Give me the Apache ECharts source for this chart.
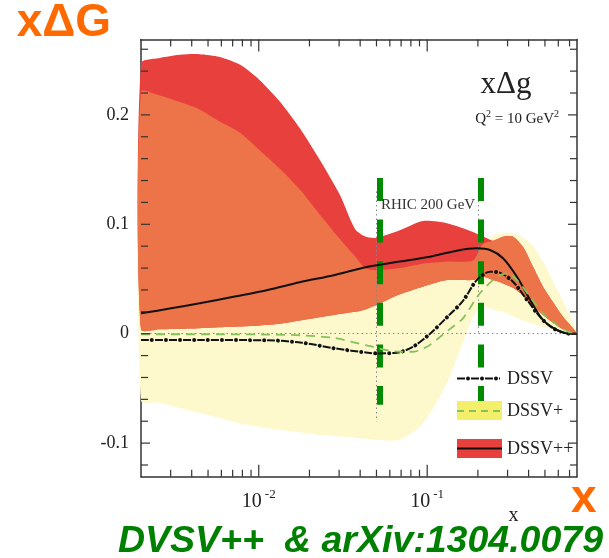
<!DOCTYPE html>
<html>
<head>
<meta charset="utf-8">
<script src="https://cdn.jsdelivr.net/npm/echarts@6/dist/echarts.min.js"></script>
<style>
  html, body { margin: 0; padding: 0; background: #ffffff; }
  #chart { width: 609px; height: 558px; }
</style>
</head>
<body>
<div id="chart"></div>
<script>
// x positions at which the uncertainty bands are sampled
const bandX = [0.002, 0.00258, 0.0034, 0.00446, 0.00586, 0.00771, 0.0101, 0.0133, 0.0175, 0.023,
  0.0303, 0.0372, 0.0426, 0.0496, 0.0688, 0.0942, 0.131, 0.187, 0.214, 0.246,
  0.282, 0.323, 0.370, 0.425, 0.487, 0.558, 0.640, 0.734, 0.775];
// DSSV++ band (red)
const dssvPPUpper = [0.247, 0.252, 0.255, 0.2555, 0.253, 0.246, 0.232, 0.2125, 0.188, 0.159,
  0.127, 0.096, 0.089, 0.0875, 0.0945, 0.103, 0.101, 0.093, 0.089, 0.085,
  0.0887, 0.0887, 0.0795, 0.0612, 0.043, 0.029, 0.0155, 0.005, 0];
const dssvPPLower = [0.004, 0.004, 0.0045, 0.005, 0.0058, 0.0065, 0.0075, 0.009, 0.012, 0.015,
  0.018, 0.020, 0.022, 0.026, 0.036, 0.043, 0.049, 0.049, 0.052, 0.049,
  0.046, 0.042, 0.035, 0.025, 0.017, 0.010, 0.004, 0.001, 0];
// DSSV+ band (yellow)
const dssvPUpper = [0.221, 0.2177, 0.2118, 0.205, 0.194, 0.184, 0.168, 0.151, 0.132, 0.109,
  0.0866, 0.071, 0.060, 0.058, 0.060, 0.064, 0.066, 0.067, 0.082, 0.090,
  0.092, 0.092, 0.088, 0.080, 0.066, 0.048, 0.030, 0.010, 0];
const dssvPLower = [-0.061, -0.063, -0.068, -0.0725, -0.077, -0.082, -0.085, -0.088, -0.090, -0.0926,
  -0.094, -0.095, -0.096, -0.097, -0.097, -0.082, -0.045, 0.015, 0.025, 0.022,
  0.020, 0.016, 0.012, 0.009, 0.006, 0.004, 0.002, 0.0, 0];

// central curves
const dssvPPX = [0.002, 0.00296, 0.00446, 0.0072, 0.0113, 0.0175, 0.0283, 0.0444, 0.0688, 0.104,
  0.150, 0.197, 0.236, 0.282, 0.341, 0.408, 0.487, 0.590, 0.705, 0.775];
const dssvPPY = [0.0186, 0.023, 0.0278, 0.034, 0.040, 0.047, 0.0537, 0.0612, 0.066, 0.0704,
  0.0759, 0.078, 0.0765, 0.069, 0.052, 0.031, 0.0125, 0.0034, 0.0, 0];

const dssvX = [0.002, 0.00446, 0.0113, 0.018, 0.0283, 0.0444, 0.0502, 0.0661, 0.0822, 0.104,
  0.131, 0.163, 0.197, 0.236, 0.270, 0.323, 0.391, 0.467, 0.558, 0.705, 0.775];
const dssvY = [-0.0058, -0.0058, -0.006, -0.0082, -0.0134, -0.0174, -0.018, -0.0174, -0.012, 0.0,
  0.015, 0.03, 0.049, 0.0567, 0.0558, 0.0475, 0.031, 0.0155, 0.005, 0.0, 0];

const dssvPX = [0.002, 0.00446, 0.0113, 0.018, 0.0283, 0.0444, 0.0688, 0.0822, 0.0996, 0.119,
  0.142, 0.163, 0.2056, 0.2595, 0.2976, 0.341, 0.408, 0.487, 0.590, 0.705, 0.775];
const dssvPY = [-0.0005, -0.0005, -0.0008, -0.0015, -0.004, -0.011, -0.0165, -0.0165, -0.012, -0.003,
  0.0064, 0.014, 0.037, 0.052, 0.0552, 0.049, 0.0338, 0.0186, 0.008, 0.001, 0];

// axis ranges and ticks
const xRange = [0.002, 0.775];
const yRange = [-0.1307, 0.269];
const xMajorTicks = [0.01, 0.1];
const xMinorTicks = [0.003, 0.004, 0.005, 0.006, 0.007, 0.008, 0.009,
  0.02, 0.03, 0.04, 0.05, 0.06, 0.07, 0.08, 0.09,
  0.2, 0.3, 0.4, 0.5, 0.6, 0.7];
const yTicks = [-0.12, -0.1, -0.08, -0.06, -0.04, -0.02, 0, 0.02, 0.04, 0.06, 0.08,
  0.1, 0.12, 0.14, 0.16, 0.18, 0.2, 0.22, 0.24, 0.26];

// RHIC 200 GeV kinematic range
const rhicX = [0.05, 0.2];
const rhicMarkX = [0.052, 0.208];

const SERIF = 'Liberation Serif';
const SANS = 'Liberation Sans';

const overlapUpper = dssvPPUpper.map((v, i) => Math.min(v, dssvPUpper[i]));
const overlapLower = dssvPPLower.map((v, i) => Math.max(v, dssvPLower[i]));

function bandSeries(name, upper, lower, color, z) {
  return {
    type: 'custom',
    name: name,
    silent: true,
    z: z,
    data: bandX.map((x, i) => [x, lower[i], upper[i]]),
    encode: { x: 0, y: [1, 2] },
    renderItem: function (params, api) {
      if (params.dataIndex !== 0) return null;
      const top = bandX.map((x, i) => api.coord([x, upper[i]]));
      const bottom = bandX.map((x, i) => api.coord([x, lower[i]])).reverse();
      return {
        type: 'polygon',
        shape: { points: top.concat(bottom), smooth: 0.25 },
        style: { fill: color }
      };
    }
  };
}

const tickStyle = { stroke: '#333', lineWidth: 1.2 };

const xTickSeries = {
  type: 'custom',
  silent: true,
  z: 10,
  data: xMinorTicks.map(v => [v, 0, 0]).concat(xMajorTicks.map(v => [v, 0, 1])),
  encode: { x: 0, y: 1 },
  renderItem: function (params, api) {
    const px = api.coord([api.value(0), 0])[0];
    const cs = params.coordSys;
    const len = api.value(2) ? 12 : 7;
    return {
      type: 'group',
      children: [
        { type: 'line', shape: { x1: px, y1: cs.y + cs.height, x2: px, y2: cs.y + cs.height - len }, style: tickStyle },
        { type: 'line', shape: { x1: px, y1: cs.y, x2: px, y2: cs.y + len }, style: tickStyle }
      ]
    };
  }
};

const yTickSeries = {
  type: 'custom',
  silent: true,
  z: 10,
  data: yTicks.map(v => [xRange[0], v, Math.abs(v * 10 - Math.round(v * 10)) < 1e-6 ? 1 : 0]),
  encode: { x: 0, y: 1 },
  renderItem: function (params, api) {
    const py = api.coord([xRange[0], api.value(1)])[1];
    const cs = params.coordSys;
    const len = api.value(2) ? 9 : 7;
    return {
      type: 'group',
      children: [
        { type: 'line', shape: { x1: cs.x, y1: py, x2: cs.x + len, y2: py }, style: tickStyle },
        { type: 'line', shape: { x1: cs.x + cs.width, y1: py, x2: cs.x + cs.width - len, y2: py }, style: tickStyle }
      ]
    };
  }
};

const frameLine = { show: true, onZero: false, lineStyle: { color: '#333', width: 1.5 } };

const chart = echarts.init(document.getElementById('chart'), null, { renderer: 'canvas' });

chart.setOption({
  animation: false,
  backgroundColor: '#ffffff',
  grid: { left: 141, right: 32, top: 39.4, bottom: 81.3, containLabel: false, outerBoundsMode: 'none' },
  xAxis: [
    {
      type: 'log', min: xRange[0], max: xRange[1], position: 'bottom',
      axisLine: frameLine, axisTick: { show: false }, splitLine: { show: false },
      axisLabel: {
        margin: 11,
        showMinLabel: false, showMaxLabel: false,
        formatter: function (v) {
          const l = Math.log10(v);
          const e = Math.round(l);
          if (Math.abs(l - e) > 1e-6) return '';
          return '{b|10}{s|' + e + '}';
        },
        rich: {
          b: { fontFamily: SERIF, fontSize: 20, color: '#222', lineHeight: 24, verticalAlign: 'bottom' },
          s: { fontFamily: SERIF, fontSize: 13, color: '#222', lineHeight: 14, verticalAlign: 'top', padding: [0, 0, 0, 3] }
        }
      }
    },
    {
      type: 'log', min: xRange[0], max: xRange[1], position: 'top',
      axisLine: frameLine, axisTick: { show: false }, splitLine: { show: false },
      axisLabel: { show: false }
    }
  ],
  yAxis: [
    {
      type: 'value', min: yRange[0], max: yRange[1], position: 'left',
      axisLine: frameLine, axisTick: { show: false }, splitLine: { show: false },
      axisLabel: {
        margin: 12, fontFamily: SERIF, fontSize: 18, color: '#222',
        showMinLabel: false, showMaxLabel: false,
        formatter: function (v) {
          if (Math.abs(v * 10 - Math.round(v * 10)) > 1e-6) return '';
          return String(Math.round(v * 10) / 10);
        }
      }
    },
    {
      type: 'value', min: yRange[0], max: yRange[1], position: 'right',
      axisLine: frameLine, axisTick: { show: false }, splitLine: { show: false },
      axisLabel: { show: false }
    }
  ],
  series: [
    bandSeries('DSSV+ band', dssvPUpper, dssvPLower, '#fdf9cc', 1),
    bandSeries('DSSV++ band', dssvPPUpper, dssvPPLower, '#e8403c', 2),
    bandSeries('overlap', overlapUpper, overlapLower, '#ec7448', 3),
    {
      type: 'line', name: 'DSSV++', z: 5,
      data: dssvPPX.map((x, i) => [x, dssvPPY[i]]),
      showSymbol: false, smooth: 0.3,
      lineStyle: { color: '#111', width: 2 },
      markLine: {
        silent: true, symbol: 'none', label: { show: false },
        lineStyle: { color: '#888', width: 1, type: [1.5, 3] },
        data: [
          { yAxis: 0 },
          [{ coord: [rhicX[0], 0.13] }, { coord: [rhicX[0], -0.08] }],
          [{ coord: [rhicX[1], 0.13] }, { coord: [rhicX[1], 0.0] }]
        ]
      }
    },
    {
      type: 'line', name: 'DSSV', z: 5,
      data: dssvX.map((x, i) => [x, dssvY[i]]),
      showSymbol: false, smooth: 0.3,
      lineStyle: { color: '#111', width: 2, type: [8, 6] }
    },
    {
      type: 'line', name: 'DSSV dots', z: 5,
      data: dssvX.map((x, i) => [x, dssvY[i]]),
      showSymbol: false, smooth: 0.3,
      lineStyle: { color: '#111', width: 4, type: [0.01, 13.99], dashOffset: 3, cap: 'round' }
    },
    {
      type: 'line', name: 'DSSV+', z: 6,
      data: dssvPX.map((x, i) => [x, dssvPY[i]]),
      showSymbol: false, smooth: 0.3,
      lineStyle: { color: '#84c25a', width: 1.8, type: [9, 6] },
      markLine: {
        silent: true, symbol: 'none', label: { show: false },
        lineStyle: { color: '#008a00', width: 6, type: [23, 18.6], cap: 'butt' },
        data: [
          [{ coord: [rhicMarkX[0], 0.1423] }, { coord: [rhicMarkX[0], -0.065] }],
          [{ coord: [rhicMarkX[1], 0.1423] }, { coord: [rhicMarkX[1], -0.065] }]
        ]
      }
    },
    xTickSeries,
    yTickSeries
  ],
  graphic: [
    // legend
    { type: 'line', z: 50, shape: { x1: 457, y1: 378.5, x2: 500, y2: 378.5 }, style: { stroke: '#111', lineWidth: 2, lineDash: [8, 6] } },
    { type: 'line', z: 50, shape: { x1: 457, y1: 378.5, x2: 500, y2: 378.5 }, style: { stroke: '#111', lineWidth: 4, lineDash: [0.01, 13.99], lineDashOffset: 3, lineCap: 'round' } },
    { type: 'text', z: 50, x: 507, y: 379, style: { text: 'DSSV', fontFamily: SERIF, fontSize: 18, fill: '#222', verticalAlign: 'middle' } },
    { type: 'rect', z: 50, shape: { x: 457, y: 401, width: 45, height: 19 }, style: { fill: '#f4ef6a' } },
    { type: 'line', z: 51, shape: { x1: 457, y1: 411, x2: 502, y2: 411 }, style: { stroke: '#84c25a', lineWidth: 1.8, lineDash: [7, 5] } },
    { type: 'text', z: 50, x: 507, y: 411.5, style: { text: 'DSSV+', fontFamily: SERIF, fontSize: 18, fill: '#222', verticalAlign: 'middle' } },
    { type: 'rect', z: 50, shape: { x: 457, y: 439, width: 45, height: 19 }, style: { fill: '#e8403c' } },
    { type: 'line', z: 51, shape: { x1: 457, y1: 448.5, x2: 502, y2: 448.5 }, style: { stroke: '#111', lineWidth: 2 } },
    { type: 'text', z: 50, x: 507, y: 449, style: { text: 'DSSV++', fontFamily: SERIF, fontSize: 18, fill: '#222', verticalAlign: 'middle' } },
    // plot annotations
    { type: 'text', z: 50, x: 506, y: 84.5, style: { text: 'x\u0394g', fontFamily: SERIF, fontSize: 31, fill: '#222', align: 'center', verticalAlign: 'middle' } },
    {
      type: 'text', z: 50, x: 559, y: 118,
      style: {
        text: '{n|Q}{s|2}{n| = 10 GeV}{s|2}', align: 'right', verticalAlign: 'middle',
        rich: {
          n: { fontFamily: SERIF, fontSize: 15, fill: '#222', lineHeight: 18, verticalAlign: 'bottom' },
          s: { fontFamily: SERIF, fontSize: 10, fill: '#222', lineHeight: 12, verticalAlign: 'top' }
        }
      }
    },
    { type: 'text', z: 50, x: 381, y: 205, style: { text: 'RHIC 200 GeV', fontFamily: SERIF, fontSize: 15, fill: '#333', verticalAlign: 'middle' } },
    { type: 'text', z: 50, x: 513.5, y: 516, style: { text: 'x', fontFamily: SERIF, fontSize: 20, fill: '#222', align: 'center', verticalAlign: 'middle' } },
    // headline texts
    { type: 'text', z: 50, x: 16.7, y: 23.5, style: { text: 'x\u0394G', fontFamily: SANS, fontWeight: 'bold', fontSize: 46, fill: '#ff6a00', verticalAlign: 'middle' } },
    { type: 'text', z: 50, x: 571, y: 499, style: { text: 'x', fontFamily: SANS, fontWeight: 'bold', fontSize: 46, fill: '#ff6a00', verticalAlign: 'middle' } },
    { type: 'text', z: 50, x: 118, y: 542, style: { text: 'DVSV++', fontFamily: SANS, fontWeight: 'bold', fontStyle: 'italic', fontSize: 37.5, fill: '#008000', verticalAlign: 'middle' } },
    { type: 'text', z: 50, x: 284, y: 542, style: { text: '& arXiv:1304.0079', fontFamily: SANS, fontWeight: 'bold', fontStyle: 'italic', fontSize: 37.5, fill: '#008000', verticalAlign: 'middle' } }
  ]
});
</script>
</body>
</html>
